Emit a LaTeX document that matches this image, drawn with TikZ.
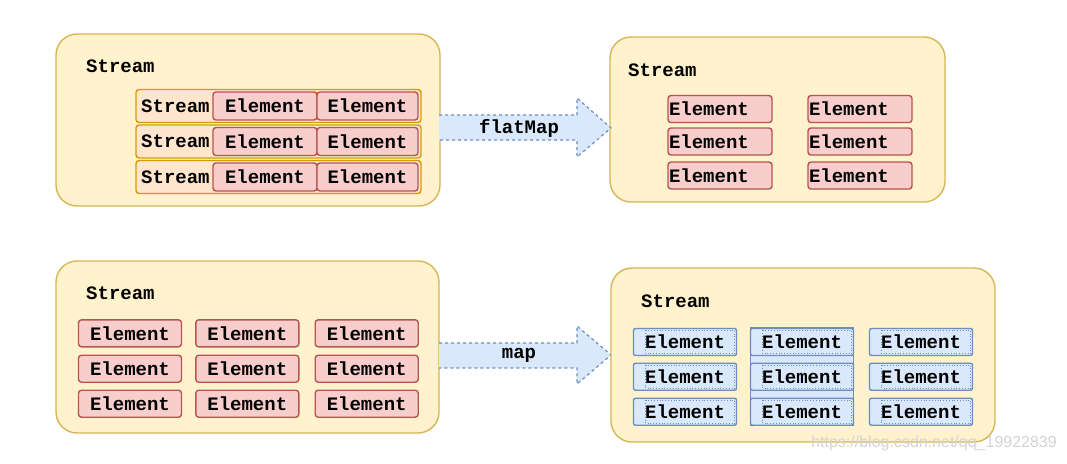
\documentclass[tikz,border=0pt]{standalone}
\usepackage{fontspec}
\setmonofont{Liberation Mono}
\newfontfamily\wmfont{Liberation Sans}
\definecolor{ylwF}{HTML}{FFF2CC}
\definecolor{ylwD}{HTML}{D6B656}
\definecolor{orgF}{HTML}{FFE6CC}
\definecolor{orgD}{HTML}{D79B00}
\definecolor{redF}{HTML}{F8CECC}
\definecolor{redD}{HTML}{B85450}
\definecolor{bluF}{HTML}{DAE8FC}
\definecolor{bluD}{HTML}{6C8EBF}
\tikzset{
  txt/.style={font=\ttfamily\bfseries\fontsize{19}{19}\selectfont, inner sep=0},
  outerbox/.style={draw=ylwD, fill=ylwF, line width=1.4pt, rounded corners=21pt, inner sep=0},
  rowbox/.style={draw=orgD, fill=orgF, line width=1.4pt, rounded corners=3pt, inner sep=0, minimum width=285, minimum height=33},
  redel/.style={txt, draw=redD, fill=redF, line width=1.4pt, rounded corners=3pt, minimum height=28},
  redelL/.style={txt, draw=redD, fill=redF, line width=1.4pt, rounded corners=3pt, minimum height=27, text width=102, align=left, inner xsep=1pt},
  bluel/.style={txt, draw=bluD, fill=bluF, line width=1.4pt, rounded corners=2pt, minimum width=103, minimum height=27},
  arrowshape/.style={draw=bluD, fill=bluF, line width=1.2pt, dashed, line join=miter},
}
\begin{document}
\begin{tikzpicture}[x=1pt,y=-1pt]
\useasboundingbox (0,0) rectangle (1067,463);

% ---------- top left ----------
\node[outerbox, minimum width=384, minimum height=172] (tl) at (248,120) {};
\node[txt, anchor=west] (tlS) at (86,66) {Stream};
\foreach \i/\y in {1/106, 2/141.5, 3/177}{
  \node[rowbox] (tlr\i) at (278.5,\y) {};
  \node[txt, anchor=west] (tlrs\i) at (141,\y) {Stream};
  \node[redel, minimum width=104] (tle\i a) at (265,\y) {Element};
  \node[redel, minimum width=101] (tle\i b) at (367.5,\y) {Element};
}

% ---------- top right ----------
\node[outerbox, minimum width=335, minimum height=165] (tr) at (777.5,119.5) {};
\node[txt, anchor=west] (trS) at (628,70) {Stream};
\foreach \i/\y in {1/109, 2/141.5, 3/175.5}{
  \node[redelL] (tre\i a) at (720,\y) {Element};
  \node[redelL] (tre\i b) at (860,\y) {Element};
}

% ---------- flatMap arrow ----------
\coordinate (fa1) at (439,115);
\coordinate (fa2) at (611,128);
\draw[arrowshape] (fa1) -- (577,115) -- (577,98) -- (fa2) -- (577,157) -- (577,140) -- (439,140);
\node[txt] (fmap) at (519,128) {flatMap};

% ---------- bottom left ----------
\node[outerbox, minimum width=383, minimum height=172] (bl) at (247.5,347) {};
\node[txt, anchor=west] (blS) at (86,293) {Stream};
\foreach \i/\y in {1/333.3, 2/368.7, 3/403.7}{
  \node[redel, minimum width=103, minimum height=27] (ble\i a) at (130,\y) {Element};
  \node[redel, minimum width=103, minimum height=27] (ble\i b) at (247.3,\y) {Element};
  \node[redel, minimum width=103, minimum height=27] (ble\i c) at (366.7,\y) {Element};
}

% ---------- map arrow ----------
\draw[arrowshape] (439,343) -- (577,343) -- (577,326) -- (611,355) -- (577,384) -- (577,368) -- (439,368);
\node[txt] (mapl) at (519,355) {map};

% ---------- bottom right ----------
\node[outerbox, minimum width=384, minimum height=174] (br) at (803,355) {};
\node[txt, anchor=west] (brS) at (641,301) {Stream};
\draw[draw=bluD, fill=bluF, line width=1.4pt] (750.7,328) rectangle (853.3,425);
\foreach \i/\y in {1/342, 2/376.7, 3/411.7}{
  \foreach \c/\x in {a/685, b/802, c/921}{
    \node[bluel] (bre\i\c) at (\x,\y) {Element};
    \draw[bluD, dotted, line width=0.8pt] ([xshift=13pt,yshift=-2.5pt]bre\i\c.north west) rectangle ([xshift=-2.5pt,yshift=2.5pt]bre\i\c.south east);
  }
}

% ---------- watermark ----------
\node[font=\wmfont\fontsize{16}{16}\selectfont, text=black!17, anchor=east, inner sep=0] (wm) at (1057,443) {https://blog.csdn.net/qq\_19922839};
\end{tikzpicture}
\end{document}
